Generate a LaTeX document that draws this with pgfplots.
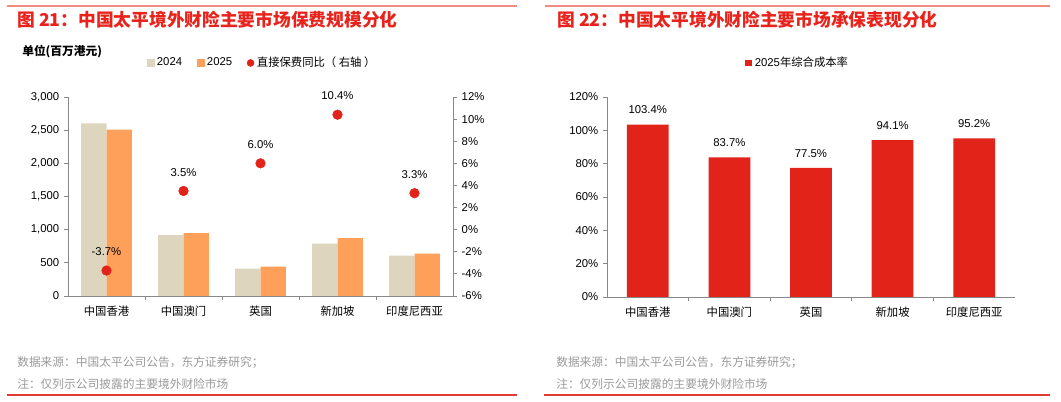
\documentclass[border=0pt]{standalone}
\usepackage{fontspec}
\setmainfont{Liberation Sans}
\newfontfamily\cjk{Noto Sans CJK SC}
\usepackage{pgfplots}
\pgfplotsset{compat=1.18}

\definecolor{c2024}{HTML}{DDD5BE}
\definecolor{c2025}{HTML}{FFA05A}
\definecolor{cred}{HTML}{E2231A}
\definecolor{titlered}{HTML}{E8231B}
\definecolor{linetop}{HTML}{F28B82}
\definecolor{linebot}{HTML}{E03A32}
\definecolor{axgray}{HTML}{888888}
\definecolor{footgray}{HTML}{9A9A9A}

\pgfplotsset{
  common/.style={
    anchor=south west, scale only axis,
    xmin=-0.5, xmax=4.5,
    axis line style={axgray, line width=0.6pt},
    tick style={axgray, line width=0.6pt},
    tick align=outside, major tick length=3pt,
    /pgf/number format/assume math mode=true,
    tick label style={font=\fontsize{8.5}{10}\selectfont},
    legend style={draw=none, fill=none, legend columns=-1,
      font=\fontsize{8.5}{10}\selectfont,
      /tikz/every even column/.style={column sep=9pt}},
    clip=false,
  },
  cats/.style={
    axis x line*=bottom,
    xtick={0,...,4},
    xticklabels={中国香港,中国澳门,英国,新加坡,印度尼西亚},
    xticklabel style={font=\cjk\fontsize{8.5}{10}\selectfont, yshift=-1pt},
    major x tick style={draw=none},
    extra x ticks={0.5,1.5,2.5,3.5},
    extra x tick labels={},
    extra x tick style={major x tick style={draw=axgray}},
  },
}

\begin{document}
\begin{tikzpicture}[x=0.75pt,y=0.75pt]
\path (0,0) rectangle (1061,402);

% frame lines
\draw[linetop, line width=1.4pt] (7,396) -- (517,396);
\draw[linetop, line width=1.4pt] (545,396) -- (1050,396);
\draw[linebot, line width=1pt] (7,7) -- (517,7);
\draw[linebot, line width=1pt] (544,7) -- (1050,7);

% titles
\node[anchor=west, inner sep=0pt, text=titlered, font=\cjk\bfseries\fontsize{13.3}{15}\selectfont] at (17,382) {图 21：中国太平境外财险主要市场保费规模分化};
\node[anchor=west, inner sep=0pt, text=titlered, font=\cjk\bfseries\fontsize{13.3}{15}\selectfont] at (557,382) {图 22：中国太平境外财险主要市场承保表现分化};
\node[anchor=west, inner sep=0pt, font=\cjk\bfseries\fontsize{8.8}{10}\selectfont] at (22,350) {单位(百万港元)};

% footers
\node[anchor=west, inner sep=0pt, text=footgray, font=\cjk\fontsize{8.8}{10}\selectfont] at (17,40) {数据来源：中国太平公司公告，东方证券研究；};
\node[anchor=west, inner sep=0pt, text=footgray, font=\cjk\fontsize{8.8}{10}\selectfont] at (17,18) {注：仅列示公司披露的主要境外财险市场};
\node[anchor=west, inner sep=0pt, text=footgray, font=\cjk\fontsize{8.8}{10}\selectfont] at (556,40) {数据来源：中国太平公司公告，东方证券研究；};
\node[anchor=west, inner sep=0pt, text=footgray, font=\cjk\fontsize{8.8}{10}\selectfont] at (556,18) {注：仅列示公司披露的主要境外财险市场};

% left chart: premiums
\begin{axis}[common, cats,
  at={(51pt,79.5pt)}, width=288.75pt, height=149.25pt,
  ymin=0, ymax=3000, ytick={0,500,...,3000},
  axis y line*=left, scaled y ticks=false,
  ybar=0pt, bar width=19.1pt,
]
\addplot[fill=c2024, draw=none] coordinates {(0,2604)(1,918)(2,411)(3,788)(4,607)};
\addplot[fill=c2025, draw=none] coordinates {(0,2508)(1,948)(2,441)(3,873)(4,637)};
\end{axis}

% left chart: growth, right axis
\begin{axis}[common,
  at={(51pt,79.5pt)}, width=288.75pt, height=149.25pt,
  ymin=-6, ymax=12, ytick={-6,-4,...,12},
  axis x line=none, axis y line*=right,
  yticklabel={\pgfmathprintnumber{\tick}\%},
  legend style={at={(0.505,1.171)}, anchor=center},
]
\addlegendimage{legend image code/.code={\fill[c2024] (0pt,-2.6pt) rectangle (5.2pt,2.6pt);}}
\addlegendentry{2024}
\addlegendimage{legend image code/.code={\fill[c2025] (0pt,-2.6pt) rectangle (5.2pt,2.6pt);}}
\addlegendentry{2025}
\addplot[only marks, mark=*, mark size=3.6pt, color=cred,
  legend image code/.code={\fill[cred] (2.6pt,0pt) circle (2.6pt);},
  nodes near coords={\pgfmathprintnumber[fixed,fixed zerofill,precision=1]{\pgfplotspointmeta}\%},
  nodes near coords style={font=\fontsize{8.5}{10}\selectfont, text=black, anchor=center, yshift=14pt},
] coordinates {(0,-3.7)(1,3.5)(2,6.0)(3,10.4)(4,3.3)};
\addlegendentry{{\cjk 直接保费同比（ 右轴 ）}}
\end{axis}

% right chart: combined ratio
\begin{axis}[common, cats,
  at={(455.25pt,78.75pt)}, width=306pt, height=150pt,
  ymin=0, ymax=120, ytick={0,20,...,120},
  axis y line*=left,
  yticklabel={\pgfmathprintnumber{\tick}\%},
  ybar, bar width=31.3pt,
  legend style={at={(0.468,1.17)}, anchor=center},
]
\addplot[fill=cred, draw=none,
  legend image code/.code={\fill[cred] (0pt,-2.6pt) rectangle (5.2pt,2.6pt);},
  nodes near coords={\pgfmathprintnumber[fixed,fixed zerofill,precision=1]{\pgfplotspointmeta}\%},
  nodes near coords style={font=\fontsize{8.5}{10}\selectfont, text=black, anchor=center, yshift=11pt},
] coordinates {(0,103.4)(1,83.7)(2,77.5)(3,94.1)(4,95.2)};
\addlegendentry{2025{\cjk 年综合成本率}}
\end{axis}
\end{tikzpicture}
\end{document}
